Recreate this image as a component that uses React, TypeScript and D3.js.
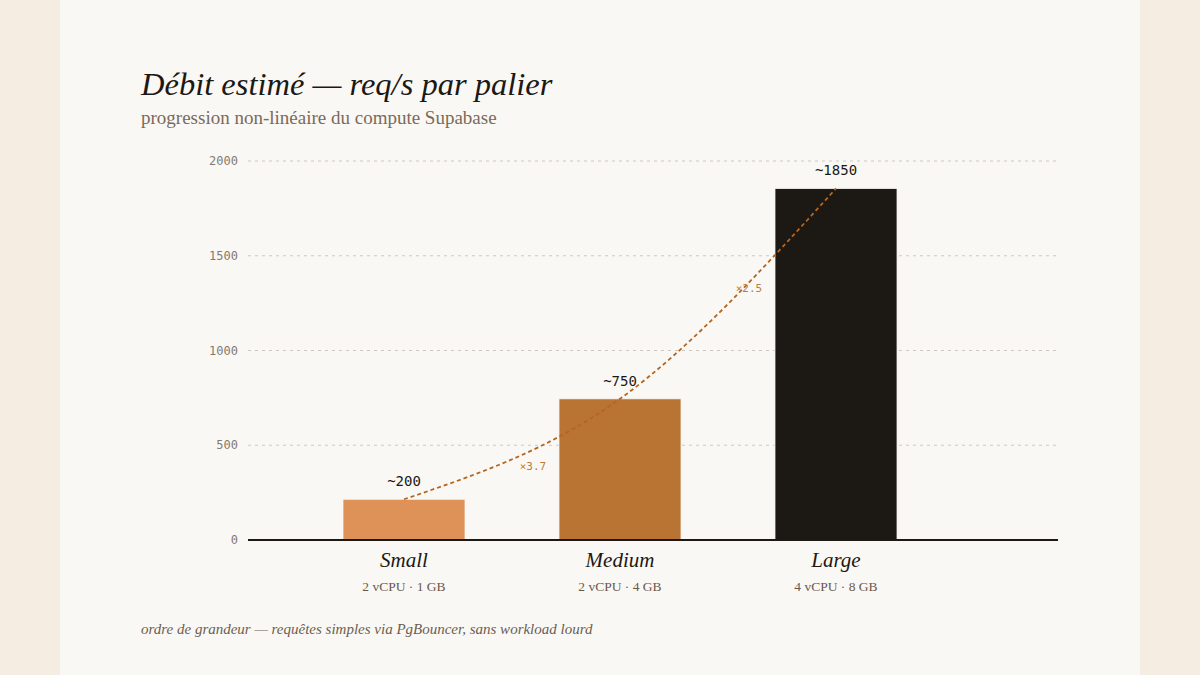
import React from 'react';
import * as d3 from 'd3';

// paliers de compute
const tiers = ['Small', 'Medium', 'Large'];
const specs = ['2 vCPU · 1 GB', '2 vCPU · 4 GB', '4 vCPU · 8 GB'];
const reqPerSec = [215, 745, 1855];
const valueLabels = ['~200', '~750', '~1850'];
const barColors = ['#de9257', '#b97434', '#1c1814'];
const yTicks = [0, 500, 1000, 1500, 2000];
const ratioLabels = ['×3.7', '×2.5'];
const ratioAnchorValues = [390, 1330]; // hauteur de l'annotation

const W = 1200;
const H = 675;
const mono = '"DejaVu Sans Mono", "Liberation Mono", monospace';
const serif = '"Liberation Serif", "DejaVu Serif", serif';

const App: React.FC = () => {
  const x = d3
    .scaleBand<string>()
    .domain(tiers)
    .range([296, 944])
    .paddingInner(0.435)
    .paddingOuter(0.2175);
  const y = d3.scaleLinear().domain([0, 2000]).range([540, 161]);

  const cx = (t: string) => (x(t) || 0) + x.bandwidth() / 2;

  const pts: [number, number][] = tiers.map((t, i) => [cx(t), y(reqPerSec[i])]);
  const curve = d3.line().curve(d3.curveMonotoneX)(pts) || '';

  return (
    <svg
      width={W}
      height={H}
      viewBox={`0 0 ${W} ${H}`}
      style={{ position: 'absolute', top: 0, left: 0, display: 'block' }}
    >
      <rect x={0} y={0} width={W} height={H} fill="#f5ece2" />
      <rect x={60} y={0} width={1080} height={H} fill="#faf8f4" />

      <text x={141} y={95} fontFamily={serif} fontStyle="italic" fontSize={32.5} fill="#1c1814">
        Débit estimé — req/s par palier
      </text>
      <text x={141} y={124} fontFamily={serif} fontSize={19} fill="#7a6a5a">
        progression non-linéaire du compute Supabase
      </text>

      {/* grille + ticks */}
      {yTicks.map((t) => (
        <g key={t}>
          {t > 0 && (
            <line
              x1={248}
              x2={1058}
              y1={y(t)}
              y2={y(t)}
              stroke="#cfc8bf"
              strokeWidth={1}
              strokeDasharray="3 4"
            />
          )}
          <text
            x={238}
            y={y(t)}
            dy="0.35em"
            textAnchor="end"
            fontFamily={mono}
            fontSize={12}
            fill="#857a6f"
          >
            {t}
          </text>
        </g>
      ))}

      {/* barres */}
      {tiers.map((t, i) => (
        <rect
          key={t}
          x={x(t)}
          y={y(reqPerSec[i])}
          width={x.bandwidth()}
          height={y(0) - y(reqPerSec[i])}
          fill={barColors[i]}
          stroke="#faf8f4"
          strokeWidth={0.8}
        />
      ))}

      <line x1={248} x2={1058} y1={y(0)} y2={y(0)} stroke="#1c1814" strokeWidth={2} />

      {/* courbe de progression */}
      <path
        d={curve}
        fill="none"
        stroke="#b5651d"
        strokeWidth={1.8}
        strokeDasharray="4 3"
      />

      {ratioLabels.map((r, i) => (
        <text
          key={r}
          x={(cx(tiers[i]) + cx(tiers[i + 1])) / 2 + 21}
          y={y(ratioAnchorValues[i])}
          dy="0.35em"
          textAnchor="middle"
          fontFamily={mono}
          fontSize={11}
          fill="#bf7a40"
        >
          {r}
        </text>
      ))}

      {tiers.map((t, i) => (
        <g key={t}>
          <text
            x={cx(t)}
            y={y(reqPerSec[i]) - 13}
            textAnchor="middle"
            fontFamily={mono}
            fontSize={14}
            fill="#1c1814"
          >
            {valueLabels[i]}
          </text>
          <text
            x={cx(t)}
            y={567}
            textAnchor="middle"
            fontFamily={serif}
            fontStyle="italic"
            fontSize={21}
            fill="#1c1814"
          >
            {t}
          </text>
          <text
            x={cx(t)}
            y={591}
            textAnchor="middle"
            fontFamily={serif}
            fontSize={13.5}
            fill="#6b5a4c"
          >
            {specs[i]}
          </text>
        </g>
      ))}

      <text x={141} y={634} fontFamily={serif} fontStyle="italic" fontSize={15} fill="#6b5e52">
        ordre de grandeur — requêtes simples via PgBouncer, sans workload lourd
      </text>
    </svg>
  );
};

export default App;
